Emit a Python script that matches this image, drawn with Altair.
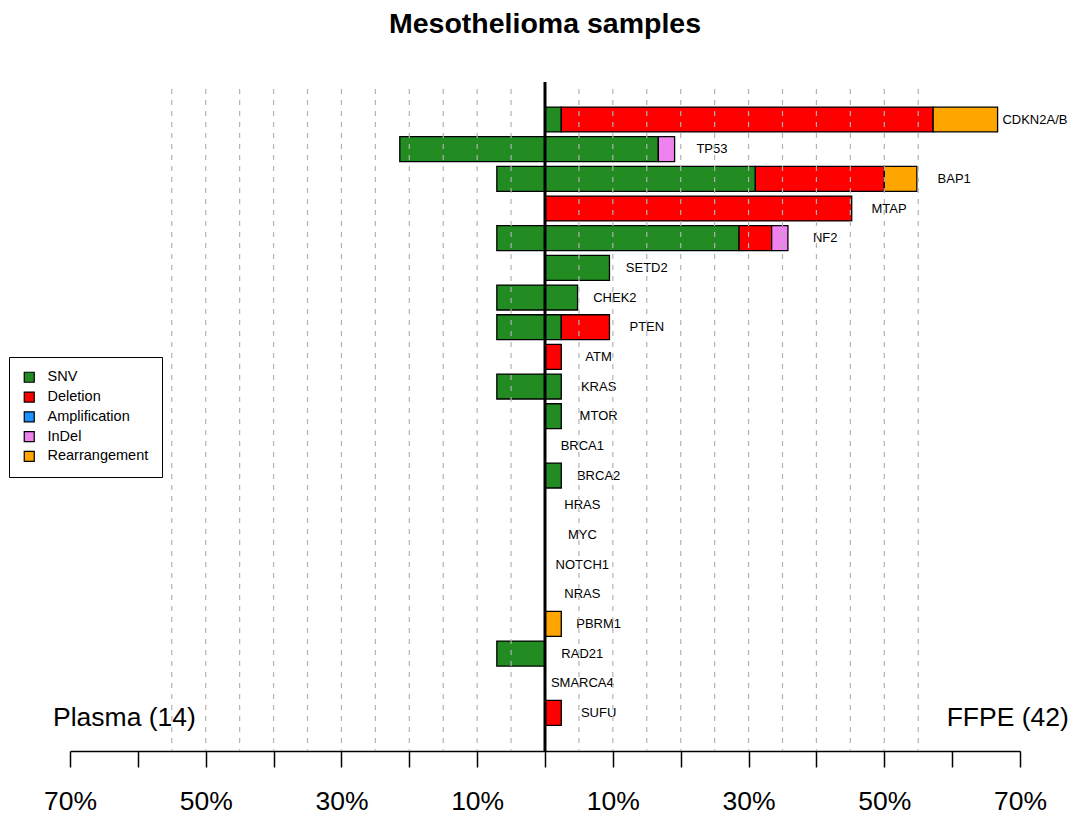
import altair as alt
import pandas as pd

# ---------------- data ----------------
genes = ["CDKN2A/B", "TP53", "BAP1", "MTAP", "NF2", "SETD2", "CHEK2", "PTEN",
         "ATM", "KRAS", "MTOR", "BRCA1", "BRCA2", "HRAS", "MYC", "NOTCH1",
         "NRAS", "PBRM1", "RAD21", "SMARCA4", "SUFU"]
categories = ["SNV", "Deletion", "Amplification", "InDel", "Rearrangement"]
colors = ["#228B22", "#FF0000", "#1E90FF", "#EE82EE", "#FFA500"]

# FFPE (n=42) percentages, per alteration type
ffpe_snv = [2.4, 16.7, 31.0, 0, 28.6, 9.5, 4.8, 2.4, 0, 2.4, 2.4, 0, 2.4, 0, 0, 0, 0, 0, 0, 0, 0]
ffpe_del = [54.8, 0, 19.0, 45.2, 4.8, 0, 0, 7.1, 2.4, 0, 0, 0, 0, 0, 0, 0, 0, 0, 0, 0, 2.4]
ffpe_amp = [0, 0, 0, 0, 0, 0, 0, 0, 0, 0, 0, 0, 0, 0, 0, 0, 0, 0, 0, 0, 0]
ffpe_indel = [0, 2.4, 0, 0, 2.4, 0, 0, 0, 0, 0, 0, 0, 0, 0, 0, 0, 0, 0, 0, 0, 0]
ffpe_rearr = [9.5, 0, 4.8, 0, 0, 0, 0, 0, 0, 0, 0, 0, 0, 0, 0, 0, 0, 2.4, 0, 0, 0]
# Plasma (n=14) percentages (SNV only), drawn to the left
plasma_snv = [0, 21.4, 7.1, 0, 7.1, 0, 7.1, 7.1, 0, 7.1, 0, 0, 0, 0, 0, 0, 0, 0, 7.1, 0, 0]

grid_pct = [-55, -50, -45, -40, -35, -30, -25, -20, -15, -10, -5,
            5, 10, 15, 20, 25, 30, 35, 40, 45, 50, 55]
tick_pct = [-70, -60, -50, -40, -30, -20, -10, 0, 10, 20, 30, 40, 50, 60, 70]
side_text = ["Plasma (14)", "FFPE (42)"]
side_x = [-72.5, 77.2]
side_row = [20.44, 20.44]

FONT = "Liberation Sans"
HALF = 0.42      # half bar thickness in row units
LABEL_GAP = 5.5  # gap (percent) from bar end to label centre

# ---------------- build tables ----------------
seg_rows = []
label_rows = []
ffpe_series = [ffpe_snv, ffpe_del, ffpe_amp, ffpe_indel, ffpe_rearr]
for i, g in enumerate(genes):
    start = 0.0
    for cat, vals in zip(categories, ffpe_series):
        v = vals[i]
        if v > 0:
            seg_rows.append(dict(gene=g, cat=cat, x0=start, x1=start + v,
                                 y0=i - HALF, y1=i + HALF))
            start += v
    if plasma_snv[i] > 0:
        seg_rows.append(dict(gene=g, cat="SNV", x0=-plasma_snv[i], x1=0.0,
                             y0=i - HALF, y1=i + HALF))
    label_rows.append(dict(gene=g, row=i, xl=start + LABEL_GAP))

segs = pd.DataFrame(seg_rows)
labels = pd.DataFrame(label_rows)
grid = pd.DataFrame({"g": grid_pct})
center = pd.DataFrame({"c": [0]})
side = pd.DataFrame({"t": side_text, "x": side_x, "row": side_row})

xscale = alt.Scale(domain=[-70, 70], nice=False, zero=False)
yscale = alt.Scale(domain=[-1.264, 21.284], reverse=True, nice=False, zero=False)

xaxis = alt.Axis(
    values=tick_pct,
    labelExpr="abs(datum.value) % 20 == 10 ? abs(datum.value) + '%' : ''",
    grid=False, title=None,
    domainColor="black", domainWidth=1.5,
    tickColor="black", tickWidth=1.5, tickSize=16,
    labelFont=FONT, labelFontSize=26.5, labelColor="black",
    labelPadding=21, labelFlush=False, labelOverlap=False, labelBound=False,
)

legend = alt.Legend(
    title=None, orient="none", legendX=-61, legendY=275, direction="vertical",
    strokeColor="black", fillColor="white", padding=13, cornerRadius=0,
    symbolType="square", symbolSize=100, symbolStrokeColor="black",
    symbolStrokeWidth=1.2, symbolOpacity=1,
    labelFont=FONT, labelFontSize=14.5, labelColor="black",
    labelOffset=11, rowPadding=3.8, labelLimit=300,
)

bars = alt.Chart(segs).mark_rect(stroke="black", strokeWidth=1.3).encode(
    x=alt.X("x0:Q", scale=xscale, axis=xaxis),
    x2="x1:Q",
    y=alt.Y("y0:Q", scale=yscale, axis=None),
    y2="y1:Q",
    color=alt.Color("cat:N", scale=alt.Scale(domain=categories, range=colors),
                    legend=legend),
)

text = alt.Chart(labels).mark_text(
    font=FONT, fontSize=13, color="black", align="center", baseline="middle"
).encode(
    x=alt.X("xl:Q", scale=xscale),
    y=alt.Y("row:Q", scale=yscale),
    text="gene:N",
)

grid_rules = alt.Chart(grid).mark_rule(
    color="#B3B3B3", strokeDash=[5, 6], strokeWidth=1.2
).encode(
    x=alt.X("g:Q", scale=xscale),
    y=alt.value(7), y2=alt.value(669),
)

center_rule = alt.Chart(center).mark_rule(color="black", strokeWidth=3).encode(
    x=alt.X("c:Q", scale=xscale),
)

side_left = alt.Chart(side.iloc[[0]]).mark_text(
    font=FONT, fontSize=26.5, color="black", align="left", baseline="alphabetic"
).encode(x=alt.X("x:Q", scale=xscale), y=alt.Y("row:Q", scale=yscale), text="t:N")

side_right = alt.Chart(side.iloc[[1]]).mark_text(
    font=FONT, fontSize=26.5, color="black", align="right", baseline="alphabetic"
).encode(x=alt.X("x:Q", scale=xscale), y=alt.Y("row:Q", scale=yscale), text="t:N")

chart = alt.layer(bars, text, grid_rules, center_rule, side_left, side_right).properties(
    width=950, height=669,
    autosize=alt.AutoSizeParams(type="none"),
    padding={"left": 62, "top": 74, "right": 50, "bottom": 64},
    title=alt.TitleParams("Mesothelioma samples", font=FONT, fontSize=28.5,
                          fontWeight="bold", anchor="middle", offset=42,
                          color="black"),
).configure_view(stroke=None)

chart.save("out.html", embed_options={"renderer": "svg", "actions": False})
